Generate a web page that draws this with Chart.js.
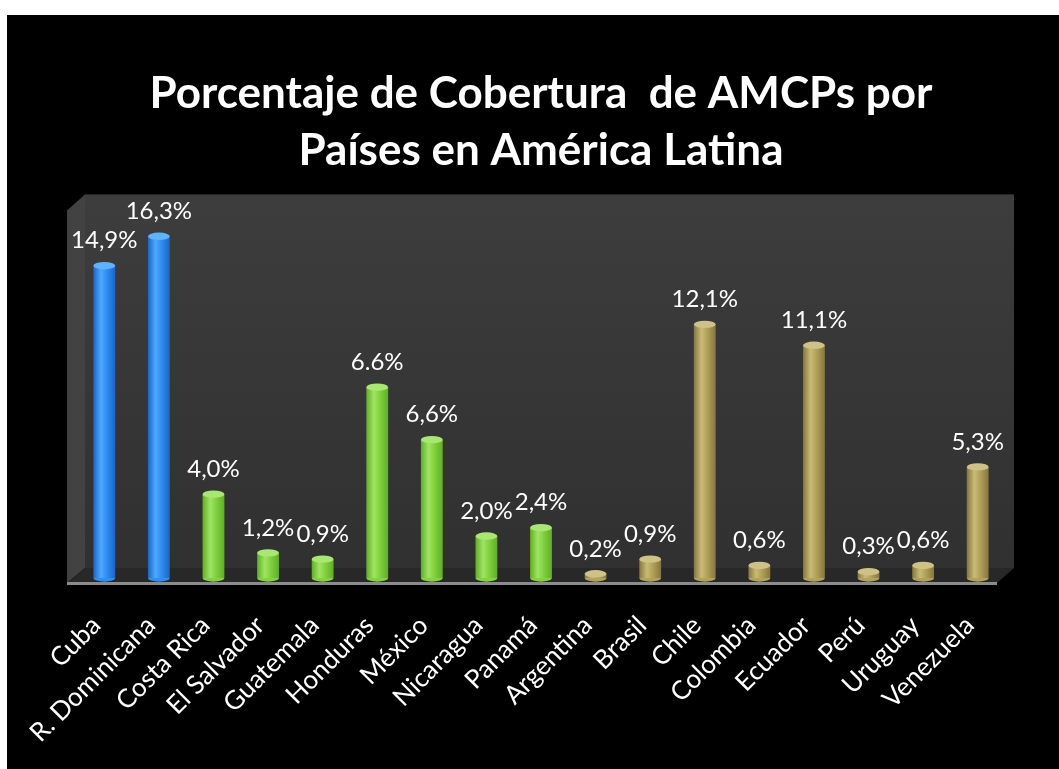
<!DOCTYPE html>
<html>
<head>
<meta charset="utf-8">
<script src="https://cdn.jsdelivr.net/npm/chart.js@4.4.1/dist/chart.umd.min.js"></script>
<style>
  html, body { margin: 0; padding: 0; background: #fff; }
  #wrap { position: absolute; left: 7px; top: 15px; width: 1052px; height: 754px; background: #000; }
</style>
</head>
<body>
<div id="wrap"><canvas id="chart"></canvas></div>
<script>
const countries = ['Cuba', 'R. Dominicana', 'Costa Rica', 'El Salvador', 'Guatemala', 'Honduras', 'México',
  'Nicaragua', 'Panamá', 'Argentina', 'Brasil', 'Chile', 'Colombia', 'Ecuador', 'Perú', 'Uruguay', 'Venezuela'];
const coverage = [14.9, 16.3, 4.0, 1.2, 0.9, 9.1, 6.6, 2.0, 2.4, 0.2, 0.9, 12.1, 0.6, 11.1, 0.3, 0.6, 5.3];
const valueLabels = ['14,9%', '16,3%', '4,0%', '1,2%', '0,9%', '6.6%', '6,6%', '2,0%', '2,4%', '0,2%', '0,9%',
  '12,1%', '0,6%', '11,1%', '0,3%', '0,6%', '5,3%'];
const regions = ['caribe', 'caribe', 'centro', 'centro', 'centro', 'centro', 'centro', 'centro', 'centro',
  'sur', 'sur', 'sur', 'sur', 'sur', 'sur', 'sur', 'sur'];

// edge, mid, highlight, cap
const palette = {
  caribe: ['#1c64c4', '#2f8ff2', '#4fa8ff', '#5fb2ff'],
  centro: ['#5fae26', '#84d240', '#a0e464', '#a8e872'],
  sur:    ['#857640', '#b2a35a', '#c9bb76', '#cec286']
};
const BAR_PCT = 0.4;

function cylFill(ctx) {
  const chart = ctx.chart;
  const p = palette[regions[ctx.dataIndex]];
  if (!chart.chartArea) return p[1];
  const xs = chart.scales.x;
  const cx = xs.getPixelForValue(ctx.dataIndex);
  const w = xs.width / countries.length * BAR_PCT;
  const g = chart.ctx.createLinearGradient(cx - w / 2, 0, cx + w / 2, 0);
  g.addColorStop(0, p[0]);
  g.addColorStop(0.35, p[2]);
  g.addColorStop(0.6, p[1]);
  g.addColorStop(1, p[0]);
  return g;
}

// gray 3D walls behind the bars
const walls = {
  id: 'walls',
  beforeDatasetsDraw(chart) {
    const { ctx, chartArea: ca } = chart;
    const L = ca.left, R = ca.right, T = ca.top, B = ca.bottom;
    ctx.save();
    // back wall
    let g = ctx.createLinearGradient(0, T, 0, B);
    g.addColorStop(0, '#3d3d3d');
    g.addColorStop(1, '#303030');
    ctx.fillStyle = g;
    ctx.fillRect(L + 8, T, R - L + 1, B - 10 - T);
    // left side wall
    ctx.beginPath();
    ctx.moveTo(L - 10, T + 16);
    ctx.lineTo(L + 8, T);
    ctx.lineTo(L + 8, B - 10);
    ctx.lineTo(L - 10, B + 5);
    ctx.closePath();
    ctx.fillStyle = '#424242';
    ctx.fill();
    // floor
    ctx.beginPath();
    ctx.moveTo(L - 10, B + 5);
    ctx.lineTo(L + 8, B - 10);
    ctx.lineTo(R + 9, B - 10);
    ctx.lineTo(R - 8, B + 5);
    ctx.closePath();
    ctx.fillStyle = '#282828';
    ctx.fill();
    // front edge of floor
    ctx.fillStyle = '#8c8c8c';
    ctx.fillRect(L - 10, B + 4, R - L + 2, 3);
    ctx.restore();
  }
};

// cylinder caps and value labels
const caps = {
  id: 'caps',
  afterDatasetsDraw(chart) {
    const { ctx } = chart;
    const meta = chart.getDatasetMeta(0);
    ctx.save();
    meta.data.forEach((bar, i) => {
      const p = palette[regions[i]];
      const rx = bar.width / 2, ry = bar.width * 0.17;
      ctx.fillStyle = p[1];
      ctx.beginPath();
      ctx.ellipse(bar.x, bar.base, rx, ry, 0, 0, Math.PI);
      ctx.fill();
      ctx.fillStyle = p[3];
      ctx.beginPath();
      ctx.ellipse(bar.x, bar.y, rx, ry, 0, 0, Math.PI * 2);
      ctx.fill();

      ctx.fillStyle = '#fff';
      ctx.font = '24px Lato';
      ctx.textAlign = 'center';
      ctx.textBaseline = 'middle';
      ctx.fillText(valueLabels[i], bar.x, bar.y - 25);
    });
    ctx.restore();
  }
};

new Chart(document.getElementById('chart'), {
  type: 'bar',
  data: {
    labels: countries,
    datasets: [{ data: coverage, backgroundColor: cylFill, borderWidth: 0, barPercentage: BAR_PCT, categoryPercentage: 1 }]
  },
  options: {
    responsive: true,
    maintainAspectRatio: false,
    animation: false,
    layout: { padding: { left: 70, right: 54, top: 0, bottom: 0 } },
    plugins: {
      legend: { display: false },
      tooltip: { enabled: false },
      title: {
        display: true,
        text: ['Porcentaje de Cobertura  de AMCPs por', 'Países en América Latina'],
        color: '#fff',
        font: { family: 'Lato', weight: 'bold', size: 44, lineHeight: 1.3 },
        padding: { top: 50, bottom: 15 }
      }
    },
    scales: {
      x: {
        grid: { display: false, drawTicks: false },
        border: { display: false },
        ticks: {
          color: '#fff', font: { family: 'Lato', size: 26 }, maxRotation: 45, minRotation: 45,
          autoSkip: false, padding: 32, labelOffset: -8
        },
        afterFit: s => { s.height = 191; }
      },
      y: { display: false, min: 0, max: 18.3 }
    }
  },
  plugins: [walls, caps]
});
</script>
</body>
</html>
